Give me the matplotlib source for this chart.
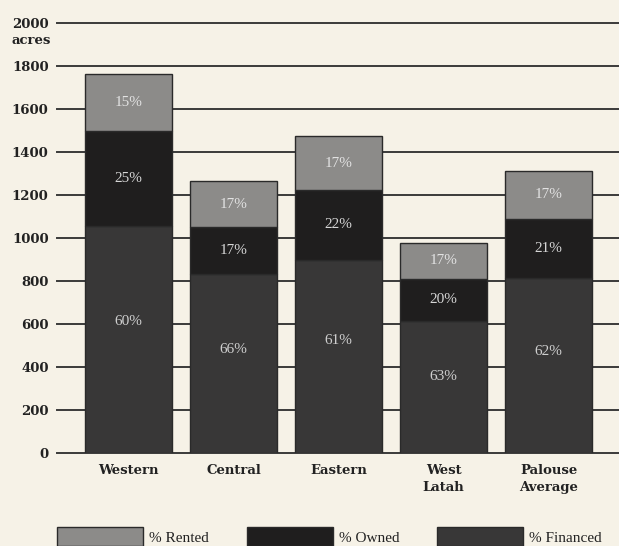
import matplotlib.pyplot as plt
import numpy as np
from matplotlib.patches import Rectangle

regions = ["Western", "Central", "Eastern", "West\nLatah", "Palouse\nAverage"]
total_acres = [1763, 1265, 1474, 977, 1312]
pct_financed = [60, 66, 61, 63, 62]
pct_owned = [25, 17, 22, 20, 21]
pct_rented = [15, 17, 17, 17, 17]
yticks = [0, 200, 400, 600, 800, 1000, 1200, 1400, 1600, 1800, 2000]

bg = "#f6f2e7"
c_rented = "#8c8b89"
c_owned = "#1f1e1e"
c_fin = "#383737"
c_line = "#3a3a3a"
serif = ["Liberation Serif", "DejaVu Serif"]
bold_serif = ["DejaVu Serif"]

total = np.array(total_acres, dtype=float)
financed = total * np.array(pct_financed) / 100
owned = total * np.array(pct_owned) / 100
rented = total * np.array(pct_rented) / 100

fig = plt.figure(figsize=(6.19, 5.46), dpi=100, facecolor=bg)
ax = fig.add_axes([0.092, 0.170, 0.908, 0.788], facecolor=bg)

x = np.arange(len(regions))
w = 0.83
for t in yticks:
    ax.axhline(t, color=c_line, lw=1.4, zorder=0, clip_on=False)

ax.bar(x, financed, w, color=c_fin, edgecolor="#2a2a2a", lw=1, zorder=2)
ax.bar(x, owned, w, bottom=financed, color=c_owned, edgecolor="#2a2a2a", lw=1, zorder=2)
ax.bar(x, rented, w, bottom=financed + owned, color=c_rented, edgecolor="#2a2a2a", lw=1, zorder=2)

for i in range(len(regions)):
    ax.text(x[i], financed[i] * 0.58, f"{pct_financed[i]}%", ha="center", va="center",
            color="#cfcfcf", fontsize=11, family=serif, zorder=3)
    ax.text(x[i], financed[i] + owned[i] / 2, f"{pct_owned[i]}%", ha="center", va="center",
            color="#d6d6d6", fontsize=11, family=serif, zorder=3)
    ax.text(x[i], financed[i] + owned[i] + rented[i] / 2, f"{pct_rented[i]}%", ha="center",
            va="center", color="#e2e2e2", fontsize=11, family=serif, zorder=3)

ax.set_xlim(-0.68, 4.67)
ax.set_ylim(0, 2000)
ax.set_yticks(yticks)
ax.set_yticklabels([str(t) for t in yticks], family=bold_serif, fontweight="bold", fontsize=9.5,
                   color="#222222")
ax.set_xticks(x)
ax.set_xticklabels(regions, family=bold_serif, fontweight="bold", fontsize=9.5, color="#222222",
                   linespacing=1.35)
ax.tick_params(axis="both", length=0)
ax.tick_params(axis="y", pad=6)
ax.tick_params(axis="x", pad=8)
for s in ax.spines.values():
    s.set_visible(False)

fig.text(0.082, 1 - 40 / 546, "acres", ha="right", va="center", family=bold_serif,
         fontweight="bold", fontsize=9.5, color="#222222")

# legend along the bottom
legend = [("% Rented", c_rented, 57), ("% Owned", c_owned, 247), ("% Financed", c_fin, 437)]
for label, col, px in legend:
    fig.patches.append(Rectangle((px / 619, 0), 86 / 619, 19 / 546, transform=fig.transFigure,
                                 facecolor=col, edgecolor="#2a2a2a", lw=1))
    fig.text((px + 92) / 619, 8 / 546, label, ha="left", va="center", family=serif,
             fontsize=11, color="#222222")

fig.savefig("out.png", dpi=100, facecolor=bg)
